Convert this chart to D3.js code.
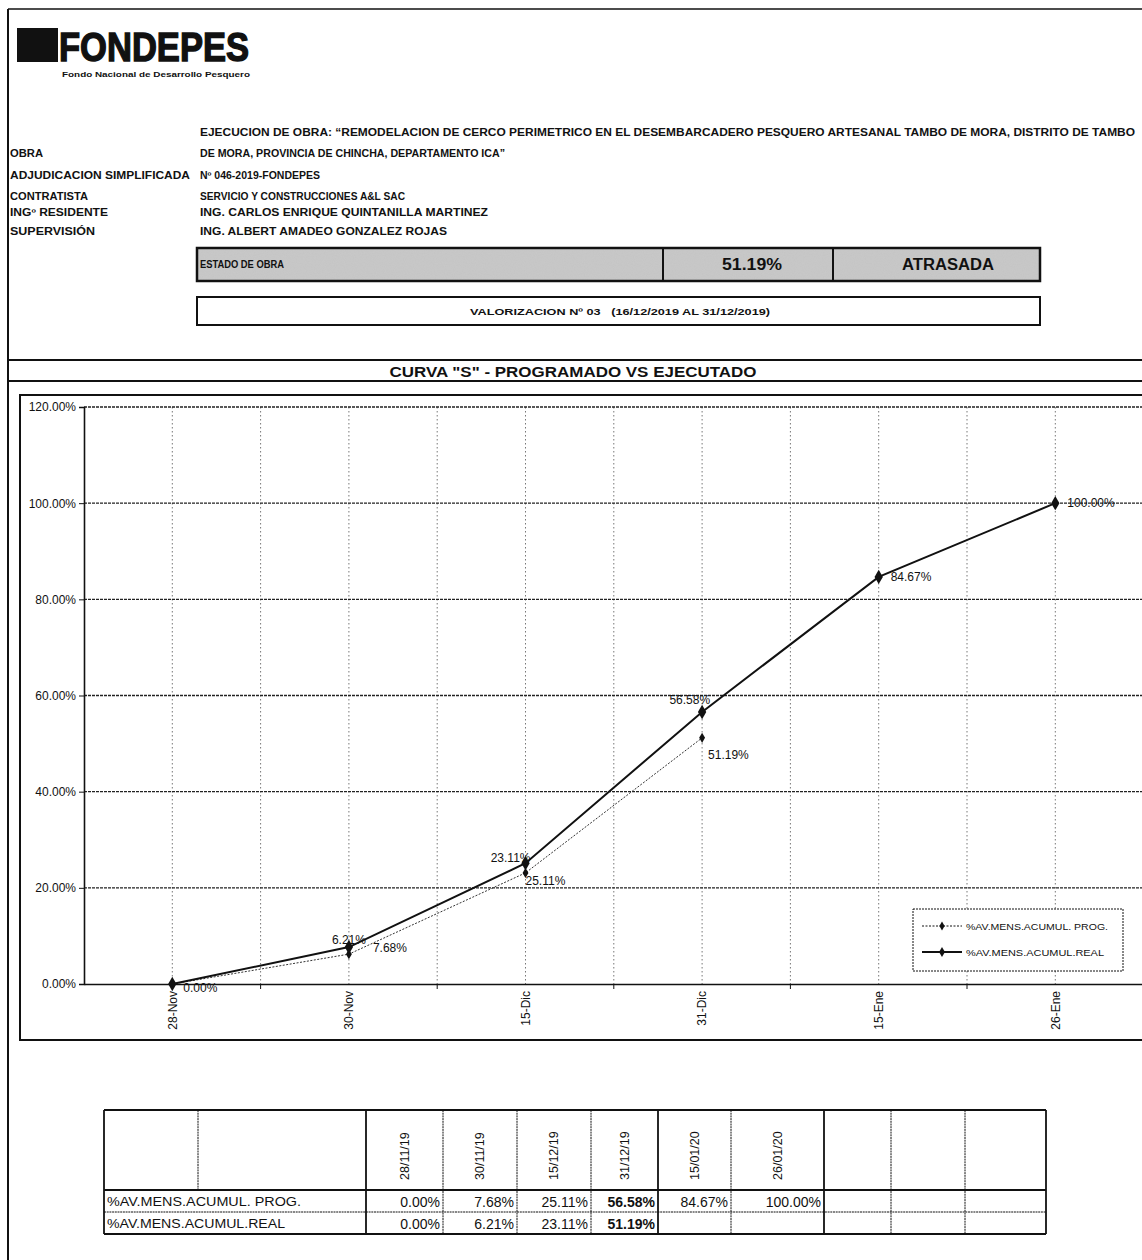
<!DOCTYPE html>
<html>
<head>
<meta charset="utf-8">
<script src="https://cdn.jsdelivr.net/npm/d3@7"></script>
<style>
  html, body { margin: 0; padding: 0; background: #fff; }
  svg { display: block; font-family: "Liberation Sans", Arial, sans-serif; }
</style>
</head>
<body>
<svg id="c" width="1142" height="1260"></svg>
<script>
// ---------------- DATA ----------------
const categories = ["28-Nov", "30-Nov", "15-Dic", "31-Dic", "15-Ene", "26-Ene"];
const tableDates = ["28/11/19", "30/11/19", "15/12/19", "31/12/19", "15/01/20", "26/01/20"];
const progValues = [0.00, 7.68, 25.11, 56.58, 84.67, 100.00];
const realValues = [0.00, 6.21, 23.11, 51.19];
const yTicks = [0, 20, 40, 60, 80, 100, 120];
const seriesNames = ["%AV.MENS.ACUMUL. PROG.", "%AV.MENS.ACUMUL.REAL"];
const legendNames = ["%AV.MENS.ACUMUL. PROG.", "%AV.MENS.ACUMUL.REAL"];
const chartTitle = 'CURVA "S" - PROGRAMADO VS EJECUTADO';
const infoLabels = ["OBRA", "ADJUDICACION SIMPLIFICADA", "CONTRATISTA", "INGº RESIDENTE", "SUPERVISIÓN"];
const infoValues = [
  "EJECUCION DE OBRA: “REMODELACION DE CERCO PERIMETRICO EN EL DESEMBARCADERO PESQUERO ARTESANAL TAMBO DE MORA, DISTRITO DE TAMBO",
  "DE MORA, PROVINCIA DE CHINCHA, DEPARTAMENTO ICA”",
  "Nº 046-2019-FONDEPES",
  "SERVICIO Y CONSTRUCCIONES A&L SAC",
  "ING. CARLOS ENRIQUE QUINTANILLA MARTINEZ",
  "ING. ALBERT AMADEO GONZALEZ ROJAS"
];
const estado = ["ESTADO DE OBRA", "51.19%", "ATRASADA"];
const valorizacion = "VALORIZACION Nº 03   (16/12/2019 AL 31/12/2019)";
// data labels: which line they sit on, point index, which series' value they show
const labelSpec = [
  { on: "prog", i: 1, from: "real" },
  { on: "prog", i: 2, from: "real" },
  { on: "prog", i: 3, from: "prog" },
  { on: "prog", i: 4, from: "prog" },
  { on: "prog", i: 5, from: "prog" },
  { on: "real", i: 0, from: "real" },
  { on: "real", i: 1, from: "prog" },
  { on: "real", i: 2, from: "prog" },
  { on: "real", i: 3, from: "real" }
];
const boldCells = { prog: [3], real: [3] };

// ---------------- LAYOUT ----------------
const svg = d3.select("#c");
const fmt = v => v.toFixed(2) + "%";
const black = "#111";

// page frame
svg.append("line").attr("x1", 8).attr("x2", 8).attr("y1", 9).attr("y2", 1260).attr("stroke", black).attr("stroke-width", 2);
svg.append("line").attr("x1", 8).attr("x2", 1142).attr("y1", 9).attr("y2", 9).attr("stroke", black).attr("stroke-width", 1.5);

// logo
svg.append("rect").attr("x", 17).attr("y", 28).attr("width", 41).attr("height", 34).attr("fill", black);
svg.append("text").attr("x", 59).attr("y", 61).attr("font-size", 40).attr("font-weight", "bold")
  .attr("stroke", black).attr("stroke-width", 1.4)
  .attr("textLength", 190).attr("lengthAdjust", "spacingAndGlyphs").attr("fill", black).text("FONDEPES");
svg.append("text").attr("x", 62).attr("y", 77).attr("font-size", 7).attr("font-weight", "bold")
  .attr("textLength", 188).attr("lengthAdjust", "spacingAndGlyphs").attr("fill", black).text("Fondo Nacional de Desarrollo Pesquero");

// info block
const rowY = [136, 157, 179, 200, 216, 235];
const valW = [935, 305, 120, 205, 288, 247];
infoValues.forEach((t, k) => {
  svg.append("text").attr("x", 200).attr("y", rowY[k]).attr("font-size", 10).attr("font-weight", "bold")
    .attr("textLength", valW[k]).attr("lengthAdjust", "spacingAndGlyphs").attr("fill", black).text(t);
});
const labW = [33, 180, 78, 98, 85];
infoLabels.forEach((t, k) => {
  svg.append("text").attr("x", 10).attr("y", rowY[k + 1]).attr("font-size", 10).attr("font-weight", "bold")
    .attr("textLength", labW[k]).attr("lengthAdjust", "spacingAndGlyphs").attr("fill", black).text(t);
});

// estado bar
const defs = svg.append("defs");
const flt = defs.append("filter").attr("id", "grain").attr("x", 0).attr("y", 0).attr("width", 1).attr("height", 1);
flt.append("feTurbulence").attr("type", "fractalNoise").attr("baseFrequency", 0.9).attr("numOctaves", 1).attr("seed", 3).attr("result", "n");
flt.append("feColorMatrix").attr("in", "n").attr("type", "matrix")
  .attr("values", "0 0 0 0 0.55  0 0 0 0 0.55  0 0 0 0 0.55  0 0 0 0.9 0").attr("result", "g");
flt.append("feComposite").attr("in", "g").attr("in2", "SourceGraphic").attr("operator", "in").attr("result", "gi");
flt.append("feMerge").call(m => { m.append("feMergeNode").attr("in", "SourceGraphic"); m.append("feMergeNode").attr("in", "gi"); });

const eb = { x: 197, y: 248, w: 843, h: 33 };
svg.append("rect").attr("x", eb.x).attr("y", eb.y).attr("width", eb.w).attr("height", eb.h)
  .attr("fill", "#c9c9c9").attr("filter", "url(#grain)");
svg.append("rect").attr("x", eb.x).attr("y", eb.y).attr("width", eb.w).attr("height", eb.h)
  .attr("fill", "none").attr("stroke", black).attr("stroke-width", 2.5);
[663, 833].forEach(x => svg.append("line").attr("x1", x).attr("x2", x).attr("y1", eb.y).attr("y2", eb.y + eb.h).attr("stroke", black).attr("stroke-width", 2));
svg.append("text").attr("x", 200).attr("y", 268).attr("font-size", 10).attr("font-weight", "bold")
  .attr("textLength", 84).attr("lengthAdjust", "spacingAndGlyphs").attr("fill", black).text(estado[0]);
svg.append("text").attr("x", 752).attr("y", 270).attr("font-size", 16).attr("font-weight", "bold").attr("text-anchor", "middle")
  .attr("textLength", 60).attr("lengthAdjust", "spacingAndGlyphs").attr("fill", black).text(estado[1]);
svg.append("text").attr("x", 948).attr("y", 270).attr("font-size", 16).attr("font-weight", "bold").attr("text-anchor", "middle")
  .attr("textLength", 92).attr("lengthAdjust", "spacingAndGlyphs").attr("fill", black).text(estado[2]);

// valorizacion box
svg.append("rect").attr("x", 197).attr("y", 297).attr("width", 843).attr("height", 28)
  .attr("fill", "#fff").attr("stroke", black).attr("stroke-width", 2);
svg.append("text").attr("x", 620).attr("y", 315).attr("font-size", 9.5).attr("font-weight", "bold").attr("text-anchor", "middle")
  .attr("textLength", 300).attr("lengthAdjust", "spacingAndGlyphs").attr("fill", black).attr("xml:space", "preserve").text(valorizacion);

// chart title bar
svg.append("rect").attr("x", 8).attr("y", 360).attr("width", 1140).attr("height", 21)
  .attr("fill", "#fff").attr("stroke", black).attr("stroke-width", 2);
svg.append("text").attr("x", 573).attr("y", 377).attr("font-size", 14).attr("font-weight", "bold").attr("text-anchor", "middle")
  .attr("textLength", 367).attr("lengthAdjust", "spacingAndGlyphs").attr("fill", black).text(chartTitle);

// chart frame
svg.append("rect").attr("x", 20).attr("y", 395).attr("width", 1140).attr("height", 645)
  .attr("fill", "#fff").attr("stroke", black).attr("stroke-width", 2);

// ---------------- CHART ----------------
const plot = { left: 84, top: 407, bottom: 984, band: 176.6 };
const x = d3.scaleBand().domain(categories).range([plot.left, plot.left + plot.band * categories.length]).padding(0);
const cx = c => x(c) + x.bandwidth() / 2;
const y = d3.scaleLinear().domain([0, 120]).range([plot.bottom, plot.top]);
const right = plot.left + plot.band * categories.length;

const g = svg.append("g");
// vertical gridlines (category centres and boundaries)
const vlines = [];
categories.forEach(c => { vlines.push(x(c)); vlines.push(cx(c)); });
vlines.push(right);
g.selectAll(".vg").data(vlines.slice(1)).join("line")
  .attr("x1", d => d).attr("x2", d => d).attr("y1", plot.top).attr("y2", plot.bottom)
  .attr("stroke", "#777").attr("stroke-width", 1).attr("stroke-dasharray", "1.5,2.5");
// horizontal gridlines
g.selectAll(".hg").data(yTicks.filter(v => v > 0)).join("line")
  .attr("x1", plot.left).attr("x2", right).attr("y1", d => y(d)).attr("y2", d => y(d))
  .attr("stroke", "#222").attr("stroke-width", 1.3).attr("stroke-dasharray", "3,1");

// y axis
const ya = g.append("g").attr("transform", `translate(${plot.left},0)`)
  .call(d3.axisLeft(y).tickValues(yTicks).tickFormat(fmt).tickSize(5).tickPadding(3));
ya.select(".domain").attr("stroke", black).attr("stroke-width", 1.6);
ya.selectAll(".tick line").attr("stroke", black);
ya.selectAll("text").attr("font-size", 12).attr("fill", black).attr("font-family", "Liberation Sans, Arial");

// x axis
const xa = g.append("g").attr("transform", `translate(0,${plot.bottom})`)
  .call(d3.axisBottom(x).tickSize(0).tickPadding(6));
xa.select(".domain").attr("stroke", black).attr("stroke-width", 1.6);
xa.selectAll("text").attr("font-size", 12).attr("fill", black).attr("font-family", "Liberation Sans, Arial")
  .attr("transform", "rotate(-90)").attr("text-anchor", "end").attr("x", -7).attr("y", 0).attr("dy", "0.35em");
g.selectAll(".xt").data(categories.map(c => x(c)).concat([right]).slice(1)).join("line")
  .attr("x1", d => d).attr("x2", d => d).attr("y1", plot.bottom).attr("y2", plot.bottom + 5).attr("stroke", black);

// lines
const line = d3.line().x((d, i) => cx(categories[i])).y(d => y(d));
g.append("path").datum(realValues).attr("d", line).attr("fill", "none")
  .attr("stroke", "#333").attr("stroke-width", 1).attr("stroke-dasharray", "2,1.5");
g.append("path").datum(progValues).attr("d", line).attr("fill", "none")
  .attr("stroke", black).attr("stroke-width", 2);
const diamond = d3.symbol().type(d3.symbolDiamond);
g.selectAll(".mr").data(realValues).join("path")
  .attr("transform", (d, i) => `translate(${cx(categories[i])},${y(d)})`)
  .attr("d", diamond.size(30)()).attr("fill", black);
g.selectAll(".mp").data(progValues).join("path")
  .attr("transform", (d, i) => `translate(${cx(categories[i])},${y(d)})`)
  .attr("d", diamond.size(60)()).attr("fill", black);

// data labels
const series = { prog: progValues, real: realValues };
const labelOffsets = [
  { dx: 0, dy: -3, a: "middle" },
  { dx: 5, dy: -1, a: "end" },
  { dx: 8, dy: -8, a: "end" },
  { dx: 12, dy: 4, a: "start" },
  { dx: 12, dy: 4, a: "start" },
  { dx: 11, dy: 8, a: "start" },
  { dx: 24, dy: -2, a: "start" },
  { dx: 0, dy: 12, a: "start" },
  { dx: 6, dy: 21, a: "start" }
];
g.selectAll(".dl").data(labelSpec).join("text")
  .attr("x", (d, k) => cx(categories[d.i]) + labelOffsets[k].dx)
  .attr("y", (d, k) => y(series[d.on][d.i]) + labelOffsets[k].dy)
  .attr("text-anchor", (d, k) => labelOffsets[k].a)
  .attr("font-size", 12).attr("fill", black)
  .text(d => fmt(series[d.from][d.i]));

// legend
const lg = g.append("g");
lg.append("rect").attr("x", 913).attr("y", 909).attr("width", 210).attr("height", 62)
  .attr("fill", "#fff").attr("stroke", black).attr("stroke-width", 1).attr("stroke-dasharray", "2,1");
const legStyles = [{ w: 1, dash: "2,1.5", s: 24 }, { w: 2, dash: null, s: 30 }];
legendNames.forEach((n, k) => {
  const ly = 926 + k * 26;
  lg.append("line").attr("x1", 922).attr("x2", 962).attr("y1", ly).attr("y2", ly)
    .attr("stroke", black).attr("stroke-width", legStyles[k].w).attr("stroke-dasharray", legStyles[k].dash);
  lg.append("path").attr("transform", `translate(942,${ly})`).attr("d", diamond.size(legStyles[k].s)()).attr("fill", black);
  lg.append("text").attr("x", 966).attr("y", ly + 3.5).attr("font-size", 9.5).attr("fill", black)
    .attr("textLength", k === 0 ? 142 : 138).attr("lengthAdjust", "spacingAndGlyphs").text(n);
});

// ---------------- TABLE ----------------
const colX = [104, 198, 366, 443, 517, 591, 658, 731, 824, 891, 965, 1046];
const rowYs = [1110, 1190, 1212, 1234];
const tb = svg.append("g");
colX.forEach((cxp, k) => {
  const y0 = rowYs[0];
  const y1 = k === 1 ? rowYs[1] : rowYs[3];
  const thick = (k === 0 || k === 2 || k === 8 || k === colX.length - 1 || k === 6);
  tb.append("line").attr("x1", cxp).attr("x2", cxp).attr("y1", y0).attr("y2", y1)
    .attr("stroke", black).attr("stroke-width", thick ? 1.8 : 1).attr("stroke-dasharray", thick ? null : "2,0.7");
});
rowYs.forEach((ry, k) => {
  const thick = (k === 0 || k === 1 || k === 3);
  tb.append("line").attr("x1", colX[0]).attr("x2", colX[colX.length - 1]).attr("y1", ry).attr("y2", ry)
    .attr("stroke", black).attr("stroke-width", thick ? 1.8 : 1).attr("stroke-dasharray", thick ? null : "2,0.7");
});
tableDates.forEach((t, k) => {
  const mx = (colX[k + 2] + colX[k + 3]) / 2;
  tb.append("text").attr("transform", `translate(${mx + 4},1180) rotate(-90)`)
    .attr("font-size", 12.5).attr("fill", black).text(t);
});
seriesNames.forEach((n, r) => {
  tb.append("text").attr("x", 107).attr("y", rowYs[r + 1] + 16).attr("font-size", 12.5).attr("fill", black)
    .attr("textLength", r === 0 ? 194 : 178).attr("lengthAdjust", "spacingAndGlyphs").text(n);
});
[progValues, realValues].forEach((vals, r) => {
  const key = r === 0 ? "prog" : "real";
  vals.forEach((v, k) => {
    tb.append("text").attr("x", colX[k + 3] - 3).attr("y", rowYs[r + 1] + 16.5).attr("text-anchor", "end")
      .attr("font-size", 14).attr("fill", black)
      .attr("font-weight", boldCells[key].includes(k) ? "bold" : "normal").text(fmt(v));
  });
});
</script>
</body>
</html>
